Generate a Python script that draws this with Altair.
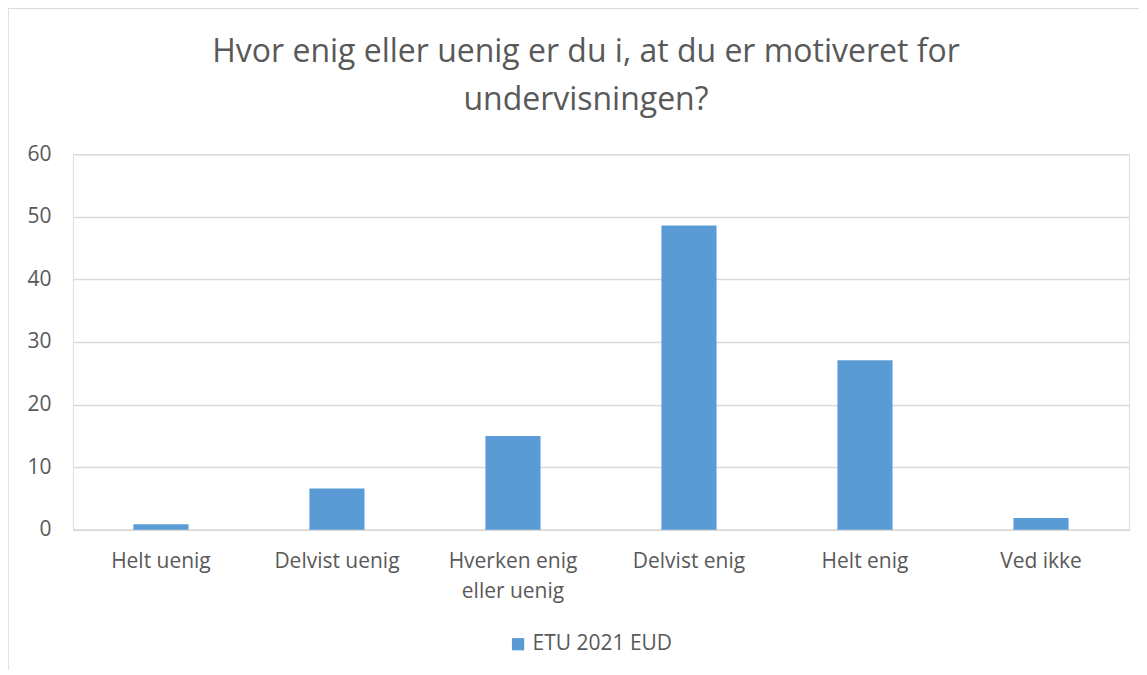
import altair as alt
import pandas as pd

categories = ["Helt uenig", "Delvist uenig", "Hverken enig|eller uenig", "Delvist enig", "Helt enig", "Ved ikke"]
values = [0.9, 6.6, 15.0, 48.6, 27.1, 1.9]
series = ["ETU 2021 EUD"] * len(categories)
y_ticks = [0, 10, 20, 30, 40, 50, 60]
title_lines = ["Hvor enig eller uenig er du i, at du er motiveret for", "undervisningen?"]

df = pd.DataFrame({"kategori": categories, "procent": values, "serie": series})

FONT = "Open Sans"
GREY = "#595959"
W, H = 1057, 376
PADL, PADT = 65, 146

bars = alt.Chart(df).mark_bar(color="#5B9BD5").encode(
    x=alt.X("kategori:N", sort=categories, title=None,
            scale=alt.Scale(paddingInner=0.687, paddingOuter=0.3435),
            axis=alt.Axis(labelAngle=0, labelExpr="split(datum.label, '|')",
                          labelFontSize=21, labelColor=GREY, labelFont=FONT,
                          labelPadding=21, labelLineHeight=30, ticks=False,
                          domainColor="#D9D9D9", domainWidth=1.5, grid=False)),
    y=alt.Y("procent:Q", title=None,
            scale=alt.Scale(domain=[0, 60], nice=False),
            axis=alt.Axis(values=y_ticks, labelFontSize=21, labelColor=GREY,
                          labelFont=FONT, labelPadding=22, ticks=False, domain=False,
                          gridColor="#D9D9D9", gridWidth=1.5)),
    color=alt.Color("serie:N", scale=alt.Scale(range=["#5B9BD5"]),
                    legend=alt.Legend(title=None, orient="none", legendX=435, legendY=480,
                                      symbolType="square", symbolSize=150,
                                      labelFontSize=21, labelColor=GREY,
                                      labelFont=FONT, symbolStrokeWidth=0)),
)

frame = alt.Chart(pd.DataFrame({"a": [0]})).mark_rect(
    fill=None, stroke="#D9D9D9", strokeWidth=1.5
).encode(
    x=alt.value(-PADL), x2=alt.value(W + 60),
    y=alt.value(-PADT), y2=alt.value(H + 200),
)

t1 = alt.Chart(pd.DataFrame({"t": [title_lines[0]]})).mark_text(
    font=FONT, fontSize=32, color=GREY, baseline="middle", align="center"
).encode(text="t:N", x=alt.value(W / 2 - 15), y=alt.value(-102))
t2 = alt.Chart(pd.DataFrame({"t": [title_lines[1]]})).mark_text(
    font=FONT, fontSize=32, color=GREY, baseline="middle", align="center"
).encode(text="t:N", x=alt.value(W / 2 - 15), y=alt.value(-54))

chart = alt.layer(frame, t1, t2, bars).properties(
    width=W, height=H,
    autosize=alt.AutoSizeParams(type="none"),
    padding={"left": PADL, "top": PADT, "right": 10, "bottom": 140},
).configure_view(stroke=None).configure(background="white")

chart.save("out.html", embed_options={"renderer": "svg", "actions": False})
